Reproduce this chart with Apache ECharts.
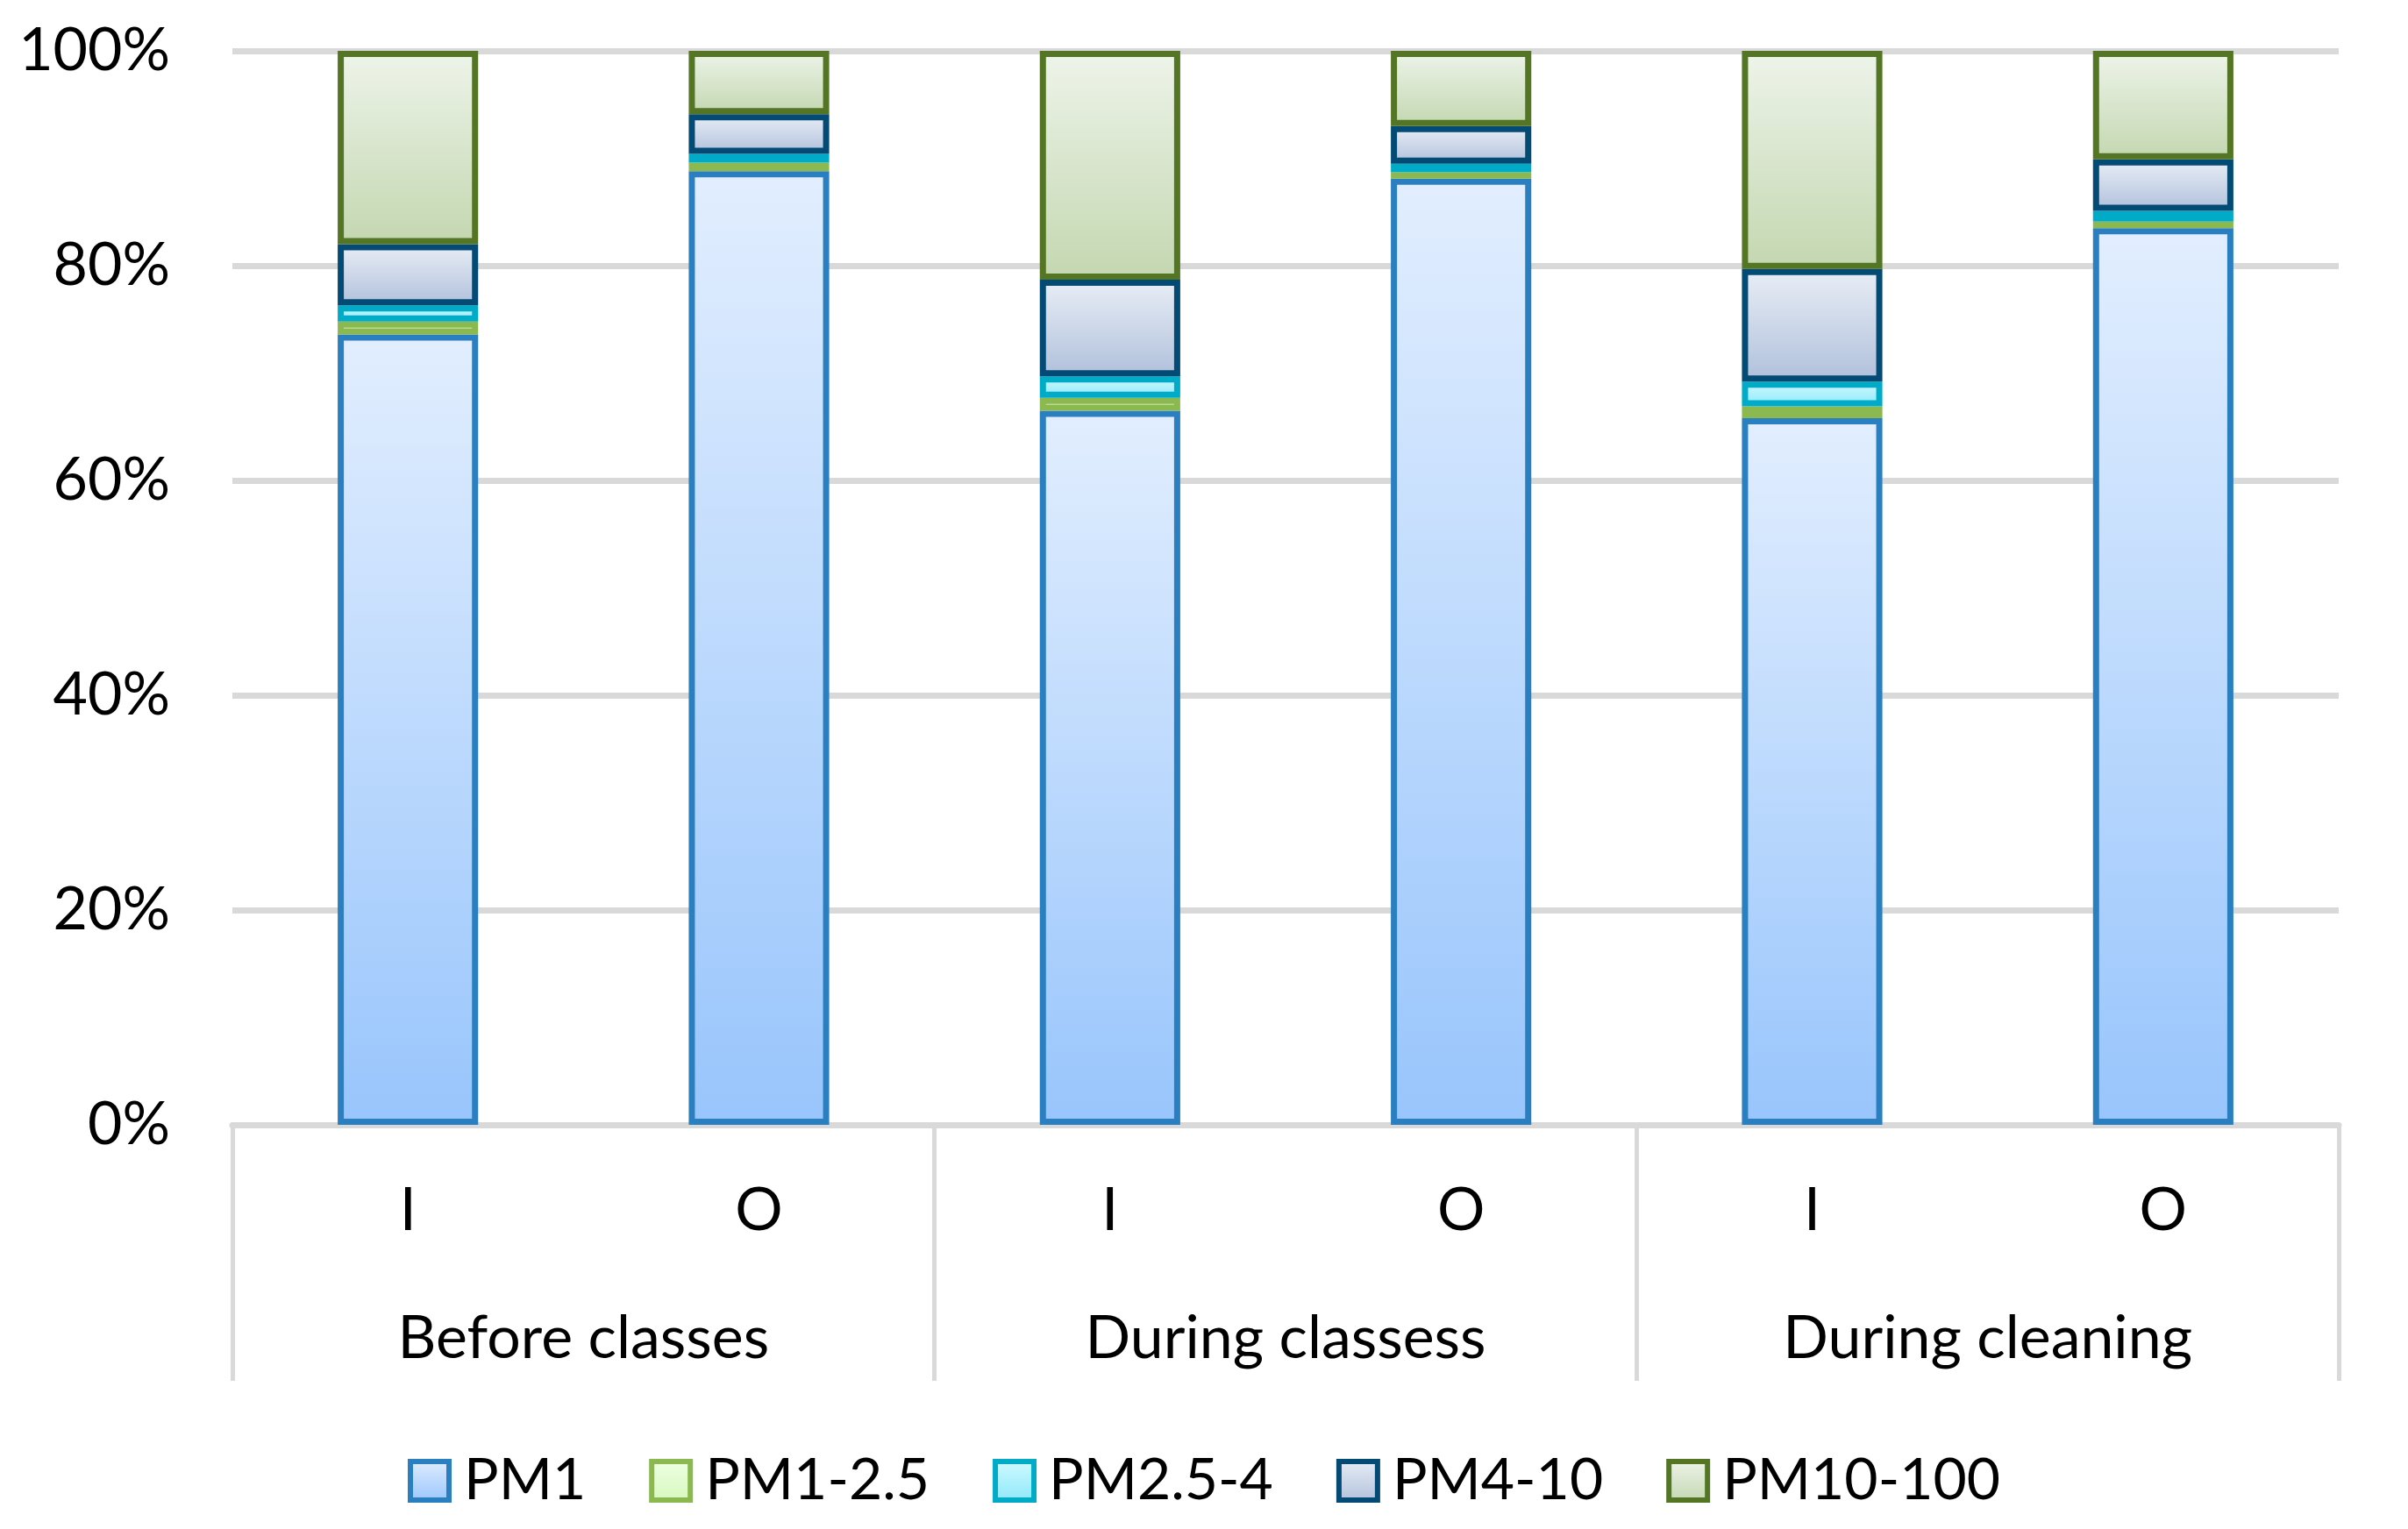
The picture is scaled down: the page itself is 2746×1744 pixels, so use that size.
<!DOCTYPE html>
<html>
<head>
<meta charset="utf-8">
<script src="https://cdn.jsdelivr.net/npm/echarts@6/dist/echarts.min.js"></script>
<style>
html,body{margin:0;padding:0;background:#fff;}
#chart{width:2746px;height:1744px;}
</style>
</head>
<body>
<div id="chart"></div>
<script>
const categories = ['I', 'O', 'I', 'O', 'I', 'O'];
const groups = ['Before classes', 'During classess', 'During cleaning'];
const seriesNames = ['PM1', 'PM1-2.5', 'PM2.5-4', 'PM4-10', 'PM10-100'];
const pm1 = [73.6, 88.8, 66.5, 88.1, 65.8, 83.5];
const pm1_25 = [1.2, 0.8, 1.2, 0.6, 1.1, 0.6];
const pm25_4 = [1.5, 0.8, 2.0, 0.8, 2.3, 1.0];
const pm4_10 = [5.7, 3.7, 9.0, 3.5, 10.5, 4.8];
const pm10_100 = [18.0, 5.9, 21.3, 7.0, 20.3, 10.1];
const yTicks = [0, 20, 40, 60, 80, 100];

const seriesData = [pm1, pm1_25, pm25_4, pm4_10, pm10_100];
const borders = ['#2A7FC1', '#8BB94F', '#00ABC8', '#034A75', '#537524'];
const fills = [
  ['#E2EEFE', '#98C5FC'],
  ['#EEFFE2', '#D6F8BF'],
  ['#D2FBFF', '#8CE7FA'],
  ['#E9EEF6', '#B0C0DB'],
  ['#EEF4EA', '#C3D7B0']
];
function grad(c) {
  return {type: 'linear', x: 0, y: 0, x2: 0, y2: 1,
    colorStops: [{offset: 0, color: c[0]}, {offset: 1, color: c[1]}]};
}
const FONT = 'Lato';
const FS = 68;
const chart = echarts.init(document.getElementById('chart'));
const option = {
  animation: false,
  backgroundColor: '#ffffff',
  textStyle: {fontFamily: FONT},
  grid: {left: 265, right: 79, top: 58, bottom: 461, containLabel: false, outerBoundsMode: 'none'},
  legend: {
    left: 'center',
    top: 1651,
    itemWidth: 44,
    itemHeight: 44,
    itemGap: 72,
    icon: 'rect',
    textStyle: {fontSize: 66, color: '#000', fontFamily: FONT, padding: [0, 0, 0, 12]},
    data: seriesNames.map((n, i) => ({
      name: n,
      itemStyle: {color: grad(fills[i]), borderColor: borders[i], borderWidth: 6}
    }))
  },
  xAxis: [
    {
      type: 'category',
      data: categories,
      position: 'bottom',
      axisLine: {show: true, lineStyle: {color: '#D9D9D9', width: 7}},
      axisTick: {show: false},
      axisLabel: {fontSize: FS, color: '#000', margin: 64, fontFamily: FONT},
      splitLine: {show: false}
    },
    {
      type: 'category',
      data: groups,
      position: 'bottom',
      offset: 0,
      axisLine: {show: false},
      axisTick: {show: true, length: 292, interval: 0, lineStyle: {color: '#D9D9D9', width: 5}},
      axisLabel: {fontSize: FS, color: '#000', margin: 210, fontFamily: FONT, interval: 0},
      splitLine: {show: false}
    }
  ],
  yAxis: {
    type: 'value',
    min: 0,
    max: 100,
    interval: 20,
    axisLine: {show: false},
    axisTick: {show: false},
    axisLabel: {fontSize: FS, color: '#000', margin: 71, fontFamily: FONT,
      formatter: v => yTicks.indexOf(v) >= 0 ? v + '%' : ''},
    splitLine: {show: true, lineStyle: {color: '#D9D9D9', width: 7}}
  },
  series: seriesNames.map((n, i) => ({
    name: n,
    type: 'bar',
    stack: 'total',
    xAxisIndex: 0,
    barWidth: '40%',
    data: seriesData[i],
    itemStyle: {color: grad(fills[i]), borderColor: borders[i], borderWidth: 7}
  }))
};
chart.setOption(option);
</script>
</body>
</html>
